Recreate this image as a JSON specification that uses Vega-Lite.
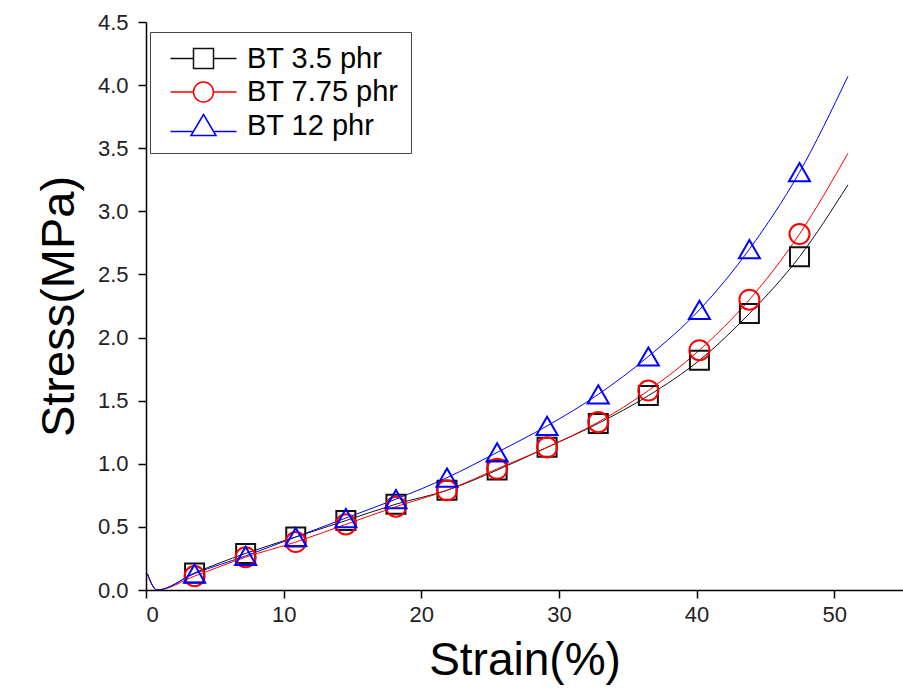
{
  "$schema": "https://vega.github.io/schema/vega-lite/v6.json",
  "width": 757,
  "height": 568,
  "autosize": {"type": "none"},
  "padding": {"left": 146, "top": 22, "right": 0, "bottom": 99},
  "background": "white",
  "config": {"view": {"stroke": null}, "font": "Liberation Sans"},
  "datasets": {
    "curve": [
      {"series": "BT 3.5 phr", "strain": 0.1, "stress": 0.13},
      {"series": "BT 3.5 phr", "strain": 0.8, "stress": 0.0},
      {"series": "BT 3.5 phr", "strain": 3.53, "stress": 0.135},
      {"series": "BT 3.5 phr", "strain": 7.24, "stress": 0.29},
      {"series": "BT 3.5 phr", "strain": 10.88, "stress": 0.42},
      {"series": "BT 3.5 phr", "strain": 14.52, "stress": 0.55},
      {"series": "BT 3.5 phr", "strain": 18.16, "stress": 0.68},
      {"series": "BT 3.5 phr", "strain": 21.87, "stress": 0.79},
      {"series": "BT 3.5 phr", "strain": 25.51, "stress": 0.95},
      {"series": "BT 3.5 phr", "strain": 29.14, "stress": 1.13},
      {"series": "BT 3.5 phr", "strain": 32.86, "stress": 1.32},
      {"series": "BT 3.5 phr", "strain": 36.5, "stress": 1.54},
      {"series": "BT 3.5 phr", "strain": 40.21, "stress": 1.82},
      {"series": "BT 3.5 phr", "strain": 43.84, "stress": 2.19},
      {"series": "BT 3.5 phr", "strain": 47.48, "stress": 2.64},
      {"series": "BT 3.5 phr", "strain": 51.0, "stress": 3.21},
      {"series": "BT 7.75 phr", "strain": 0.1, "stress": 0.12},
      {"series": "BT 7.75 phr", "strain": 0.8, "stress": 0.0},
      {"series": "BT 7.75 phr", "strain": 3.53, "stress": 0.11},
      {"series": "BT 7.75 phr", "strain": 7.24, "stress": 0.26},
      {"series": "BT 7.75 phr", "strain": 10.88, "stress": 0.38},
      {"series": "BT 7.75 phr", "strain": 14.52, "stress": 0.52},
      {"series": "BT 7.75 phr", "strain": 18.16, "stress": 0.66},
      {"series": "BT 7.75 phr", "strain": 21.87, "stress": 0.79},
      {"series": "BT 7.75 phr", "strain": 25.51, "stress": 0.96},
      {"series": "BT 7.75 phr", "strain": 29.14, "stress": 1.13},
      {"series": "BT 7.75 phr", "strain": 32.86, "stress": 1.33},
      {"series": "BT 7.75 phr", "strain": 36.5, "stress": 1.58},
      {"series": "BT 7.75 phr", "strain": 40.21, "stress": 1.9},
      {"series": "BT 7.75 phr", "strain": 43.84, "stress": 2.3},
      {"series": "BT 7.75 phr", "strain": 47.48, "stress": 2.82},
      {"series": "BT 7.75 phr", "strain": 51.0, "stress": 3.46},
      {"series": "BT 12 phr", "strain": 0.1, "stress": 0.13},
      {"series": "BT 12 phr", "strain": 0.8, "stress": 0.0},
      {"series": "BT 12 phr", "strain": 3.53, "stress": 0.13},
      {"series": "BT 12 phr", "strain": 7.24, "stress": 0.27},
      {"series": "BT 12 phr", "strain": 10.88, "stress": 0.42},
      {"series": "BT 12 phr", "strain": 14.52, "stress": 0.57},
      {"series": "BT 12 phr", "strain": 18.16, "stress": 0.72},
      {"series": "BT 12 phr", "strain": 21.87, "stress": 0.89},
      {"series": "BT 12 phr", "strain": 25.51, "stress": 1.09},
      {"series": "BT 12 phr", "strain": 29.14, "stress": 1.3},
      {"series": "BT 12 phr", "strain": 32.86, "stress": 1.55},
      {"series": "BT 12 phr", "strain": 36.5, "stress": 1.85},
      {"series": "BT 12 phr", "strain": 40.21, "stress": 2.22},
      {"series": "BT 12 phr", "strain": 43.84, "stress": 2.7},
      {"series": "BT 12 phr", "strain": 47.48, "stress": 3.31},
      {"series": "BT 12 phr", "strain": 51.0, "stress": 4.07}
    ],
    "markers": [
      {"series": "BT 3.5 phr", "strain": 3.53, "stress": 0.135},
      {"series": "BT 3.5 phr", "strain": 7.24, "stress": 0.29},
      {"series": "BT 3.5 phr", "strain": 10.88, "stress": 0.42},
      {"series": "BT 3.5 phr", "strain": 14.52, "stress": 0.55},
      {"series": "BT 3.5 phr", "strain": 18.16, "stress": 0.68},
      {"series": "BT 3.5 phr", "strain": 21.87, "stress": 0.79},
      {"series": "BT 3.5 phr", "strain": 25.51, "stress": 0.95},
      {"series": "BT 3.5 phr", "strain": 29.14, "stress": 1.13},
      {"series": "BT 3.5 phr", "strain": 32.86, "stress": 1.32},
      {"series": "BT 3.5 phr", "strain": 36.5, "stress": 1.54},
      {"series": "BT 3.5 phr", "strain": 40.21, "stress": 1.82},
      {"series": "BT 3.5 phr", "strain": 43.84, "stress": 2.19},
      {"series": "BT 3.5 phr", "strain": 47.48, "stress": 2.64},
      {"series": "BT 7.75 phr", "strain": 3.53, "stress": 0.11},
      {"series": "BT 7.75 phr", "strain": 7.24, "stress": 0.26},
      {"series": "BT 7.75 phr", "strain": 10.88, "stress": 0.38},
      {"series": "BT 7.75 phr", "strain": 14.52, "stress": 0.52},
      {"series": "BT 7.75 phr", "strain": 18.16, "stress": 0.66},
      {"series": "BT 7.75 phr", "strain": 21.87, "stress": 0.79},
      {"series": "BT 7.75 phr", "strain": 25.51, "stress": 0.96},
      {"series": "BT 7.75 phr", "strain": 29.14, "stress": 1.13},
      {"series": "BT 7.75 phr", "strain": 32.86, "stress": 1.33},
      {"series": "BT 7.75 phr", "strain": 36.5, "stress": 1.58},
      {"series": "BT 7.75 phr", "strain": 40.21, "stress": 1.9},
      {"series": "BT 7.75 phr", "strain": 43.84, "stress": 2.3},
      {"series": "BT 7.75 phr", "strain": 47.48, "stress": 2.82},
      {"series": "BT 12 phr", "strain": 3.53, "stress": 0.13},
      {"series": "BT 12 phr", "strain": 7.24, "stress": 0.27},
      {"series": "BT 12 phr", "strain": 10.88, "stress": 0.42},
      {"series": "BT 12 phr", "strain": 14.52, "stress": 0.57},
      {"series": "BT 12 phr", "strain": 18.16, "stress": 0.72},
      {"series": "BT 12 phr", "strain": 21.87, "stress": 0.89},
      {"series": "BT 12 phr", "strain": 25.51, "stress": 1.09},
      {"series": "BT 12 phr", "strain": 29.14, "stress": 1.3},
      {"series": "BT 12 phr", "strain": 32.86, "stress": 1.55},
      {"series": "BT 12 phr", "strain": 36.5, "stress": 1.85},
      {"series": "BT 12 phr", "strain": 40.21, "stress": 2.22},
      {"series": "BT 12 phr", "strain": 43.84, "stress": 2.7},
      {"series": "BT 12 phr", "strain": 47.48, "stress": 3.31}
    ]
  },
  "resolve": {"scale": {"shape": "independent", "color": "independent"}},
  "layer": [
    {
      "data": {"name": "curve"},
      "mark": {"type": "line", "interpolate": "monotone", "strokeWidth": 1, "clip": true},
      "encoding": {
        "x": {
          "field": "strain", "type": "quantitative",
          "scale": {"domain": [0, 55], "nice": false, "zero": false},
          "axis": {
            "title": "Strain(%)", "values": [0, 10, 20, 30, 40, 50], "grid": false,
            "domainColor": "black", "domainWidth": 1.5, "tickColor": "black", "tickWidth": 1.5, "tickSize": 8,
            "labelFontSize": 22, "labelColor": "#222", "labelPadding": 6, "labelFont": "Liberation Sans",
            "titleFontSize": 46, "titleFontWeight": "normal", "titleColor": "black", "titlePadding": 13, "titleFont": "Liberation Sans"
          }
        },
        "y": {
          "field": "stress", "type": "quantitative",
          "scale": {"domain": [0, 4.5], "nice": false},
          "axis": {
            "title": "Stress(MPa)", "values": [0, 0.5, 1, 1.5, 2, 2.5, 3, 3.5, 4, 4.5], "format": ".1f", "grid": false,
            "domainColor": "black", "domainWidth": 1.5, "tickColor": "black", "tickWidth": 1.5, "tickSize": 8,
            "labelFontSize": 22, "labelColor": "#222", "labelPadding": 10, "labelFont": "Liberation Sans",
            "titleFontSize": 47, "titleFontWeight": "normal", "titleColor": "black", "titlePadding": 14, "titleFont": "Liberation Sans"
          }
        },
        "color": {
          "field": "series", "type": "nominal",
          "scale": {"domain": ["BT 3.5 phr", "BT 7.75 phr", "BT 12 phr"], "range": ["#111111", "#ff0000", "#0000ff"]},
          "legend": null
        },
        "detail": {"field": "series"}
      }
    },
    {
      "data": {"name": "markers"},
      "mark": {"type": "point", "filled": false, "strokeWidth": 2, "opacity": 1},
      "encoding": {
        "x": {"field": "strain", "type": "quantitative"},
        "y": {"field": "stress", "type": "quantitative"},
        "color": {
          "field": "series", "type": "nominal",
          "scale": {"domain": ["BT 3.5 phr", "BT 7.75 phr", "BT 12 phr"], "range": ["#111111", "#ff0000", "#0000ff"]},
          "legend": null
        },
        "size": {
          "field": "series", "type": "nominal",
          "scale": {"domain": ["BT 3.5 phr", "BT 7.75 phr", "BT 12 phr"], "range": [361, 441, 600]},
          "legend": null
        },
        "shape": {
          "field": "series", "type": "nominal",
          "scale": {"domain": ["BT 3.5 phr", "BT 7.75 phr", "BT 12 phr"], "range": ["square", "circle", "triangle-up"]},
          "legend": null
        }
      }
    },
    {
      "data": {"name": "markers"},
      "transform": [{"filter": "false"}],
      "mark": {"type": "point", "filled": false, "opacity": 1},
      "encoding": {
        "x": {"field": "strain", "type": "quantitative"},
        "y": {"field": "stress", "type": "quantitative"},
        "color": {
          "field": "series", "type": "nominal",
          "scale": {"domain": ["BT 3.5 phr", "BT 7.75 phr", "BT 12 phr"], "range": ["#111111", "#ff0000", "#0000ff"]}
        },
        "shape": {
          "field": "series", "type": "nominal",
          "scale": {
            "domain": ["BT 3.5 phr", "BT 7.75 phr", "BT 12 phr"],
            "range": [
              "M-3.3,0H-1M1,0H3.3M-1,-1H1V1H-1Z",
              "M-3.3,0H-1M1,0H3.3M-1,0C-1,-0.5523,-0.5523,-1,0,-1C0.5523,-1,1,-0.5523,1,0C1,0.5523,0.5523,1,0,1C-0.5523,1,-1,0.5523,-1,0Z",
              "M-3.3,0.6H-1.1M1.1,0.6H3.3M0,-1.1L1.25,1H-1.25Z"
            ]
          },
          "legend": {
            "orient": "none", "legendX": 4, "legendY": 10,
            "title": null,
            "symbolSize": 400, "symbolStrokeWidth": 1.5, "symbolOffset": 27, "symbolOpacity": 1,
            "labelFontSize": 29, "labelFont": "Liberation Sans", "labelColor": "black", "labelOffset": 29,
            "strokeColor": "#444", "fillColor": "white", "padding": 12, "rowPadding": 3.5, "cornerRadius": 0
          }
        }
      }
    }
  ]
}
